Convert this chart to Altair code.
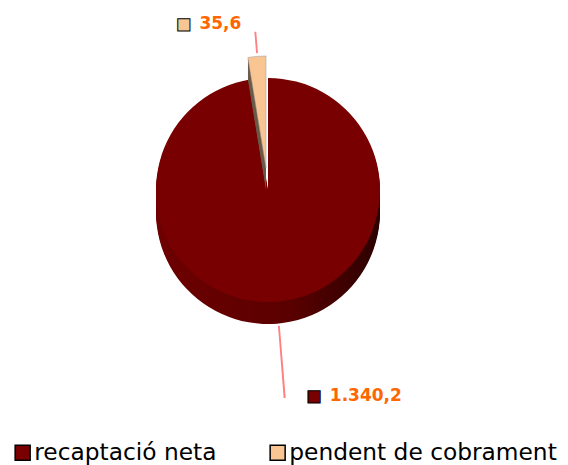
import altair as alt
import pandas as pd

categories = ["recaptació neta", "pendent de cobrament"]
values = [1340.2, 35.6]
value_labels = ["1.340,2", "35,6"]
top_colors = ["#780000", "#f9c592"]

df = pd.DataFrame({"cat": categories, "value": values, "label": value_labels,
                   "ord": list(range(len(categories)))})

R = 112
DEPTH = 22
EXPLODE_Y = -22
EXPLODE_X = -2
FONT = "DejaVu Sans"

theta_scale = alt.Scale(domain=[0, 1])
color_scale = alt.Scale(domain=categories, range=top_colors)

base = (
    alt.Chart(df)
    .transform_joinaggregate(total="sum(value)")
    .transform_window(cum="sum(value)", sort=[alt.SortField("ord")], frame=[None, 0])
    .transform_calculate(
        f0="(datum.cum - datum.value) / datum.total",
        f1="datum.cum / datum.total",
        fm="(datum.cum - datum.value / 2) / datum.total",
        fm2="(datum.cum - datum.value / 2) / datum.total + 0.0004",
    )
)

slice_enc = dict(theta=alt.Theta("f0:Q", scale=theta_scale), theta2="f1:Q")

big = alt.datum.cat == categories[0]
small = alt.datum.cat == categories[1]

side_big = alt.Gradient(
    gradient="linear",
    stops=[alt.GradientStop(color="#6e0000", offset=0),
           alt.GradientStop(color="#5a0000", offset=0.6),
           alt.GradientStop(color="#2c0000", offset=1)],
    x1=0, x2=1, y1=0, y2=0,
)

layers = []
# big slice: side (stacked copies) then top
for k in range(DEPTH, 0, -2):
    layers.append(base.transform_filter(big).mark_arc(radius=R, yOffset=k, color=side_big).encode(**slice_enc))
layers.append(
    base.transform_filter(big).mark_arc(radius=R).encode(
        **slice_enc,
        color=alt.Color("cat:N", scale=color_scale, legend=alt.Legend(
            title=None, orient="none", legendX=3, legendY=433, direction="horizontal",
            symbolType="square", symbolSize=225, symbolStrokeColor="black",
            symbolStrokeWidth=1.5, symbolOpacity=1, labelFont=FONT, labelFontSize=23.3,
            labelColor="black", columnPadding=49, labelOffset=0, padding=0,
            labelLimit=400,
        )),
    )
)
# small slice (exploded)
for k in range(DEPTH, 0, -2):
    layers.append(base.transform_filter(small).mark_arc(
        radius=R, yOffset=EXPLODE_Y + k, xOffset=EXPLODE_X, color="#6b5a48").encode(**slice_enc))
layers.append(
    base.transform_filter(small).mark_arc(
        radius=R, yOffset=EXPLODE_Y, xOffset=EXPLODE_X, stroke="#999999", strokeWidth=0.5).encode(
        **slice_enc, color=alt.Color("cat:N", scale=color_scale, legend=None))
)

# leader lines (thin radial arcs)
lead_enc = dict(theta=alt.Theta("fm:Q", scale=theta_scale), theta2="fm2:Q")
layers.append(base.transform_filter(small).mark_arc(
    radius=158, radius2=138, fill="transparent", stroke="#ff8080", strokeWidth=1.5).encode(**lead_enc))
layers.append(base.transform_filter(big).mark_arc(
    radius=208, radius2=137, fill="transparent", stroke="#ff8080", strokeWidth=1.5).encode(**lead_enc))

# labels
lab_theta = alt.Theta("fm:Q", scale=theta_scale)
for cond, rad, dx_sq, dx_txt in [(small, 167, -71, -55), (big, 207, 29, 45)]:
    layers.append(base.transform_filter(cond).mark_text(
        radius=rad, dx=dx_sq, align="center", baseline="middle", font=FONT, fontSize=16,
        text="■", stroke="black", strokeWidth=1).encode(
        theta=lab_theta, color=alt.Color("cat:N", scale=color_scale, legend=None)))
    layers.append(base.transform_filter(cond).mark_text(
        radius=rad, dx=dx_txt, align="left", baseline="middle", font=FONT, fontSize=17,
        fontWeight="bold", color="#ff6600").encode(theta=lab_theta, text="label:N"))

chart = (
    alt.layer(*layers)
    .properties(width=520, height=364,
                padding={"left": 0, "top": 0, "right": 32, "bottom": 93},
                autosize=alt.AutoSizeParams(type="none"))
    .configure_view(stroke=None)
)

chart.save("out.html", embed_options={"renderer": "svg", "actions": False})
